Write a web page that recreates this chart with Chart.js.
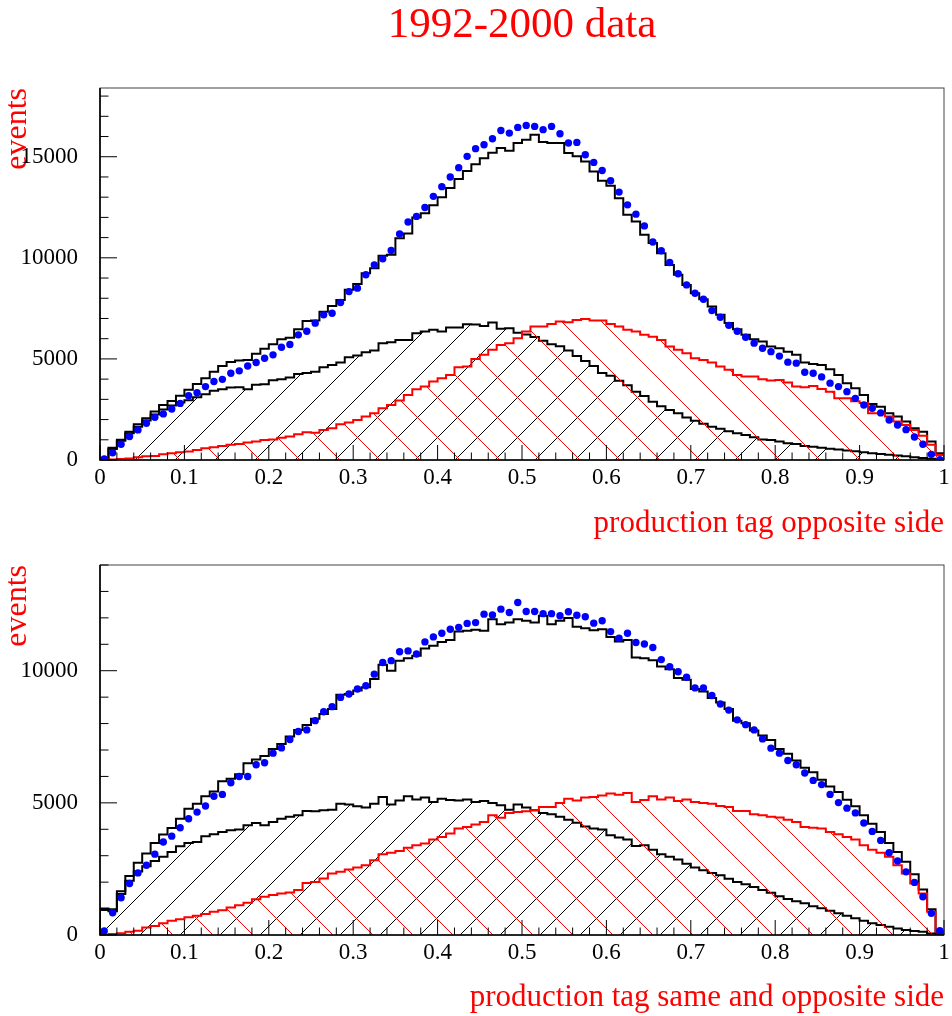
<!DOCTYPE html>
<html>
<head>
<meta charset="utf-8">
<script src="https://cdn.jsdelivr.net/npm/chart.js@4.4.1/dist/chart.umd.min.js"></script>
<style>
  html, body { margin: 0; padding: 0; background: #fff; }
  #wrap { position: relative; width: 952px; height: 1016px; overflow: hidden; }
  canvas { position: absolute; left: 0; }
  #topChart { top: 0; }
  #botChart { top: 545px; }
</style>
</head>
<body>
<div id="wrap">
  <canvas id="topChart" width="952" height="545"></canvas>
  <canvas id="botChart" width="952" height="471"></canvas>
</div>
<script>
// 100 bins from 0 to 1
const binWidth = 0.01;
const xTickValues = [0, 0.1, 0.2, 0.3, 0.4, 0.5, 0.6, 0.7, 0.8, 0.9, 1];
const topYTicks = [0, 5000, 10000, 15000];
const botYTicks = [0, 5000, 10000];
const topYMax = 18400;
const botYMax = 14000;

// upper pad: production tag opposite side
const topTotal = [
  100, 600, 1000, 1400, 1770, 2060, 2400, 2720, 2920, 3180,
  3470, 3760, 4040, 4370, 4650, 4850, 4920, 4950, 5250, 5500,
  5730, 5970, 6050, 6470, 6880, 6900, 7330, 7620, 7920, 8420,
  8710, 9240, 9490, 10100, 10150, 10970, 11200, 12000, 12200, 12600,
  13000, 13450, 13900, 14300, 14630, 14930, 15200, 15430, 15300, 15680,
  15840, 16090, 15730, 15680, 15680, 15180, 15020, 14770, 14270, 13810,
  13560, 12950, 12130, 11800, 11140, 10730, 10230, 9650, 9160, 8660,
  8250, 7950, 7590, 7180, 6780, 6470, 6190, 5970, 5860, 5610,
  5530, 5360, 5200, 4820, 4750, 4700, 4490, 4210, 3800, 3550,
  3220, 2770, 2640, 2310, 2150, 1900, 1570, 1400, 910, 330
];
const topData = [
  50, 360, 780, 1160, 1490, 1820, 2110, 2280, 2520, 2800,
  3180, 3330, 3630, 3880, 3990, 4290, 4410, 4650, 4820, 5030,
  5200, 5580, 5710, 6190, 6370, 6770, 7180, 7260, 7790, 8330,
  8500, 9160, 9650, 9950, 10360, 11180, 11770, 12050, 12490, 13040,
  13520, 14000, 14460, 15020, 15400, 15590, 15890, 16300, 16170, 16450,
  16550, 16500, 16340, 16500, 16140, 15680, 15710, 15100, 14720, 14320,
  13810, 13250, 12620, 12160, 11580, 10780, 10350, 9770, 9210, 8660,
  8250, 7950, 7390, 7060, 6660, 6370, 6070, 5780, 5530, 5360,
  5140, 4840, 4790, 4340, 4290, 4110, 3800, 3630, 3380, 3050,
  2720, 2560, 2330, 1980, 1730, 1500, 1140, 780, 280, 20
];
const topBlack = [
  80, 550, 950, 1320, 1650, 1950, 2250, 2500, 2700, 2850,
  2950, 3100, 3250, 3420, 3500, 3580, 3600, 3500, 3720, 3750,
  3950, 4000, 4080, 4250, 4300, 4370, 4590, 4700, 4820, 5080,
  5170, 5330, 5410, 5780, 5830, 5940, 5940, 6270, 6350, 6440,
  6350, 6550, 6550, 6720, 6700, 6630, 6800, 6490, 6520, 6300,
  6210, 6080, 5900, 5730, 5630, 5420, 5150, 4900, 4650, 4300,
  4170, 3920, 3700, 3370, 3160, 2880, 2660, 2470, 2310, 2100,
  1940, 1790, 1640, 1540, 1420, 1320, 1240, 1120, 1020, 990,
  910, 830, 790, 690, 660, 610, 560, 520, 470, 430,
  380, 340, 300, 260, 220, 180, 140, 100, 60, 30
];
const topRed = [
  0, 30, 50, 80, 130, 180, 200, 280, 330, 380,
  420, 500, 580, 630, 690, 760, 790, 860, 910, 990,
  1020, 1100, 1160, 1270, 1370, 1350, 1490, 1570, 1770, 1850,
  1980, 2150, 2310, 2560, 2720, 2940, 3220, 3500, 3630, 3880,
  4040, 4210, 4590, 4620, 5000, 5200, 5450, 5690, 5780, 6020,
  6350, 6600, 6600, 6730, 6850, 6810, 6930, 6980, 6900, 6900,
  6730, 6600, 6440, 6350, 6190, 6100, 5940, 5610, 5450, 5280,
  5030, 4950, 4820, 4620, 4460, 4210, 4130, 4130, 4000, 3930,
  3960, 3830, 3630, 3600, 3660, 3510, 3380, 3050, 3050, 2900,
  2820, 2310, 2310, 2150, 1900, 1730, 1490, 1200, 750, 250
];

// lower pad: production tag same and opposite side
const botTotal = [
  1000, 970, 1660, 2230, 2730, 3080, 3480, 3800, 4050, 4400,
  4780, 4970, 5250, 5430, 5820, 5910, 6080, 6500, 6640, 6770,
  7040, 7230, 7510, 7760, 7950, 8180, 8360, 8550, 9090, 9120,
  9250, 9370, 9690, 10230, 10000, 10380, 10470, 10570, 10840, 10940,
  11090, 11160, 11480, 11510, 11550, 11510, 11950, 11760, 11820, 11950,
  11890, 11820, 12080, 11760, 11890, 11990, 11660, 11610, 11530, 11570,
  11280, 11110, 11160, 10500, 10470, 10400, 10160, 10060, 9720, 9660,
  9310, 9210, 8970, 8800, 8550, 8110, 8010, 7740, 7550, 7380,
  7040, 6860, 6600, 6330, 6160, 5870, 5620, 5410, 5120, 4870,
  4530, 4210, 3900, 3480, 3140, 2770, 2300, 1720, 970, 100
];
const botData = [
  150, 840, 1410, 1950, 2350, 2640, 3060, 3520, 3740, 4060,
  4400, 4650, 4880, 5250, 5320, 5760, 6000, 6000, 6440, 6520,
  6880, 7080, 7400, 7700, 7760, 8110, 8450, 8640, 8990, 9120,
  9310, 9430, 9870, 10310, 10380, 10720, 10750, 10630, 11090, 11280,
  11420, 11570, 11640, 11790, 11820, 12140, 12110, 12330, 12200, 12580,
  12240, 12240, 12160, 12160, 12080, 12230, 12100, 12040, 11800, 11890,
  11480, 11230, 11420, 11070, 11010, 10880, 10420, 10150, 9960, 9750,
  9350, 9350, 9060, 8740, 8510, 8140, 7960, 7760, 7420, 7070,
  6880, 6600, 6440, 6130, 5850, 5690, 5320, 5010, 4800, 4620,
  4240, 3920, 3580, 3110, 2800, 2390, 1990, 1450, 820, 160
];
const botBlack = [
  950, 900, 1550, 2050, 2400, 2600, 2800, 2960, 3140, 3360,
  3480, 3520, 3740, 3810, 3900, 3960, 3990, 4150, 4240, 4150,
  4280, 4400, 4470, 4530, 4690, 4680, 4720, 4740, 4970, 4940,
  4870, 4820, 4970, 5220, 4940, 5090, 5250, 5130, 5200, 5030,
  5160, 5110, 5090, 5130, 5030, 5070, 4990, 4910, 4740, 4940,
  4820, 4720, 4620, 4570, 4470, 4360, 4250, 4110, 4030, 3990,
  3770, 3690, 3610, 3370, 3400, 3230, 3060, 2960, 2860, 2700,
  2550, 2450, 2350, 2260, 2130, 2010, 1920, 1820, 1700, 1600,
  1470, 1360, 1280, 1200, 1090, 1010, 920, 820, 730, 630,
  540, 440, 380, 310, 250, 190, 150, 120, 60, 30
];
const botRed = [
  0, 40, 70, 120, 160, 280, 340, 440, 540, 600,
  670, 730, 790, 880, 940, 1040, 1130, 1220, 1350, 1450,
  1510, 1570, 1610, 1700, 1970, 2010, 2140, 2330, 2390, 2480,
  2550, 2640, 2830, 3060, 3110, 3180, 3300, 3400, 3460, 3610,
  3710, 3840, 4030, 4090, 4180, 4280, 4530, 4440, 4620, 4650,
  4680, 4720, 4840, 4840, 4990, 5160, 5090, 5200, 5220, 5280,
  5350, 5310, 5370, 5030, 5110, 5250, 5130, 5200, 5070, 5130,
  5030, 4990, 4970, 4880, 4840, 4690, 4690, 4570, 4530, 4470,
  4450, 4360, 4280, 4090, 4060, 4030, 3900, 3810, 3710, 3610,
  3400, 3230, 3110, 2960, 2640, 2330, 1950, 1570, 880, 120
];

const serif = "'Liberation Serif', 'Times New Roman', serif";

// histogram outline: low edge of each bin, closed down to 0 at both ends
function histPoints(values) {
  const pts = [{ x: 0, y: 0 }];
  values.forEach((v, i) => pts.push({ x: i * binWidth, y: v }));
  pts.push({ x: values.length * binWidth, y: values[values.length - 1] });
  pts.push({ x: values.length * binWidth, y: 0 });
  return pts;
}

function dataPoints(values) {
  return values.map((v, i) => ({ x: (i + 0.5) * binWidth, y: v }));
}

// ROOT style hatch (3004 / 3005)
function hatch(color, dir, shift) {
  const size = 40;
  const c = document.createElement('canvas');
  c.width = size;
  c.height = size;
  const g = c.getContext('2d');
  g.strokeStyle = color;
  g.lineWidth = 1;
  g.beginPath();
  for (let k = -1; k <= 1; k++) {
    if (dir === '/') {
      g.moveTo(k * size, size);
      g.lineTo(k * size + size, 0);
    } else {
      g.moveTo(k * size, 0);
      g.lineTo(k * size + size, size);
    }
  }
  g.stroke();
  const p = g.createPattern(c, 'repeat');
  p.setTransform(new DOMMatrix().translate(shift, 0));
  return p;
}

// frame and inward tick marks like a ROOT pad
const frameTicks = {
  id: 'frameTicks',
  afterDraw(chart) {
    const { ctx, chartArea: a } = chart;
    const xs = chart.scales.x;
    const ys = chart.scales.y;
    ctx.save();
    ctx.strokeStyle = '#444';
    ctx.lineWidth = 1;
    ctx.strokeRect(a.left, a.top, a.right - a.left, a.bottom - a.top);

    ctx.strokeStyle = '#000';
    ctx.beginPath();
    for (let i = 0; i <= 50; i++) {
      const px = xs.getPixelForValue(i * 0.02);
      const len = i % 5 === 0 ? 15 : 7.5;
      ctx.moveTo(px, a.bottom);
      ctx.lineTo(px, a.bottom - len);
    }
    for (let v = 0; v <= ys.max; v += 1000) {
      const py = ys.getPixelForValue(v);
      const len = v % 5000 === 0 ? 17 : 8.5;
      ctx.moveTo(a.left, py);
      ctx.lineTo(a.left + len, py);
    }
    ctx.stroke();

    ctx.lineWidth = 1.6;
    ctx.beginPath();
    ctx.moveTo(a.left, a.top);
    ctx.lineTo(a.left, a.bottom);
    ctx.lineTo(a.right, a.bottom);
    ctx.stroke();
    ctx.restore();
  }
};

function makeChart(id, o) {
  return new Chart(document.getElementById(id), {
    type: 'line',
    data: {
      datasets: [
        {
          label: 'data',
          data: dataPoints(o.data),
          showLine: false,
          pointRadius: 3.7,
          pointBackgroundColor: '#0000ff',
          pointBorderWidth: 0,
          order: 0
        },
        {
          label: 'red',
          data: histPoints(o.red),
          stepped: 'before',
          borderColor: '#ff0000',
          borderWidth: 2,
          pointRadius: 0,
          fill: 'origin',
          backgroundColor: hatch('#ff0000', '\\', o.redShift),
          order: 1
        },
        {
          label: 'black',
          data: histPoints(o.black),
          stepped: 'before',
          borderColor: '#000',
          borderWidth: 2,
          pointRadius: 0,
          fill: 'origin',
          backgroundColor: hatch('#000', '/', o.blackShift),
          order: 2
        },
        {
          label: 'total',
          data: histPoints(o.total),
          stepped: 'before',
          borderColor: '#000',
          borderWidth: 2,
          pointRadius: 0,
          fill: false,
          order: 3
        }
      ]
    },
    options: {
      responsive: false,
      animation: false,
      layout: { padding: o.padding },
      plugins: {
        legend: { display: false },
        tooltip: { enabled: false },
        title: {
          display: !!o.title,
          text: o.title || '',
          color: '#ff0000',
          fullSize: false,
          font: { family: serif, size: 43, weight: 'normal', lineHeight: 1 },
          padding: { top: 4, bottom: 41 }
        }
      },
      scales: {
        x: {
          type: 'linear',
          min: 0,
          max: 1,
          grid: { display: false, drawTicks: false },
          border: { display: false },
          afterBuildTicks: s => { s.ticks = xTickValues.map(v => ({ value: v })); },
          afterFit: s => { s.height = o.xHeight; s.paddingLeft = 0; s.paddingRight = 0; },
          ticks: {
            padding: 4,
            color: '#000',
            maxRotation: 0,
            autoSkip: false,
            font: { family: serif, size: 23 },
            callback: v => String(v)
          },
          title: {
            display: true,
            text: o.xTitle,
            align: 'end',
            color: '#ff0000',
            font: { family: serif, size: 31, lineHeight: 1 },
            padding: { top: 0, bottom: 0 }
          }
        },
        y: {
          type: 'linear',
          min: 0,
          max: o.yMax,
          grid: { display: false, drawTicks: false },
          border: { display: false },
          afterBuildTicks: s => { s.ticks = o.yTicks.map(v => ({ value: v })); },
          afterFit: s => { s.width = 100; s.paddingTop = 0; s.paddingBottom = 0; },
          ticks: {
            padding: 22,
            color: '#000',
            font: { family: serif, size: 23 },
            callback: v => String(v)
          },
          title: {
            display: true,
            text: 'events',
            align: 'end',
            color: '#ff0000',
            font: { family: serif, size: 32, lineHeight: 1 },
            padding: { top: 2, bottom: 0 }
          }
        }
      }
    },
    plugins: [frameTicks]
  });
}

makeChart('topChart', {
  title: '1992-2000 data',
  total: topTotal, data: topData, black: topBlack, red: topRed,
  yMax: topYMax, yTicks: topYTicks,
  xTitle: 'production tag opposite side',
  padding: { top: 0, right: 8, bottom: 6, left: 0 },
  xHeight: 79,
  blackShift: 35, redShift: 0
});

makeChart('botChart', {
  title: null,
  total: botTotal, data: botData, black: botBlack, red: botRed,
  yMax: botYMax, yTicks: botYTicks,
  xTitle: 'production tag same and opposite side',
  padding: { top: 20, right: 8, bottom: 3, left: 0 },
  xHeight: 78,
  blackShift: 10, redShift: 23
});
</script>
</body>
</html>
